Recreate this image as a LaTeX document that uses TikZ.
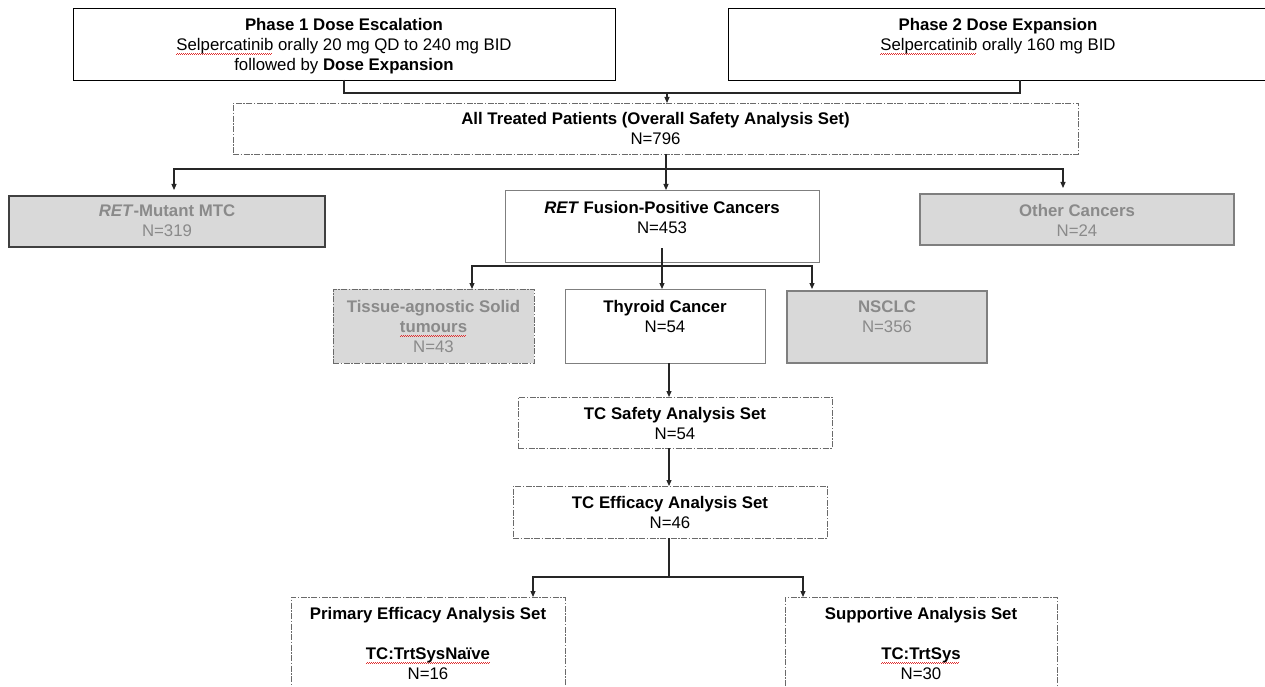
\documentclass[tikz,border=0pt]{standalone}
\usepackage{fontspec}
\setmainfont{Liberation Sans}
\usetikzlibrary{arrows.meta}
\definecolor{boxgray}{HTML}{D9D9D9}
\definecolor{txtgray}{HTML}{8A8A8A}
\definecolor{edgegray}{HTML}{7F7F7F}
\definecolor{dashgray}{HTML}{6A6A6A}
\definecolor{spellred}{HTML}{E03030}
\newcommand\spell[1]{\setbox0\hbox{#1}\leavevmode\rlap{\color{spellred}\leaders\hbox{\rule[-4.2pt]{1pt}{0.7pt}\rule[-3.5pt]{1pt}{0.7pt}}\hskip\wd0}\box0\relax}
\newcommand\bx[6]{\node[#6, anchor=north west, minimum width={#3-#1}, minimum height={#4-#2}] (#5) at (#1,#2) {};}
\newcommand\tx[5][]{\node[txt,#1] (#2) at (#3,{#4-8}) {\strut #5};}
\begin{document}
\begin{tikzpicture}[x=1pt,y=-1pt,
  base/.style={inner sep=0pt, outer sep=0pt, line width=0.9pt},
  solidbox/.style={base, draw=black, fill=white},
  linebox/.style={base, draw=edgegray, fill=white},
  dashbox/.style={base, draw=dashgray, dash pattern=on 6pt off 1.5pt on 1.5pt off 1.5pt},
  greybox/.style={base, draw=edgegray, fill=boxgray, line width=1.1pt},
  txt/.style={font=\fontsize{16.8}{20}\selectfont, align=center, inner sep=0pt, anchor=north},
  greytxt/.style={text=txtgray},
  conn/.style={draw=black!85, line width=1.1pt},
  arr/.style={conn, -{Triangle[length=6pt,width=5pt]}}]
\fill[white] (0,0) rectangle (1265,687);
\useasboundingbox (0,0) rectangle (1265,687);

% boxes
\bx{73}{8}{615}{80}{p1}{solidbox}
\bx{728}{8}{1268}{80}{p2}{solidbox}
\bx{233}{103}{1078}{154}{all}{dashbox}
\bx{9}{196}{325}{247}{mtc}{greybox,draw=black!75}
\bx{505}{190}{819}{262}{ret}{linebox}
\bx{920}{194}{1234}{245}{oth}{greybox}
\bx{333}{289}{534}{363}{tis}{greybox,dashbox,line width=0.9pt}
\bx{565}{289}{765}{363}{thy}{linebox}
\bx{787}{291}{987}{363}{nsc}{greybox,line width=1.5pt}
\bx{518}{397}{832}{448}{tcs}{dashbox}
\bx{513}{486}{827}{538}{tce}{dashbox}
\bx{291}{597}{565}{705}{pri}{dashbox}
\bx{785}{597}{1057}{705}{sup}{dashbox}

% texts
\tx{p1t}{344}{24}{\textbf{Phase 1 Dose Escalation}\\\spell{Selpercatinib} orally 20 mg QD to 240 mg BID\\followed by \textbf{Dose Expansion}}
\tx{p2t}{998}{24}{\textbf{Phase 2 Dose Expansion}\\\spell{Selpercatinib} orally 160 mg BID}
\tx{allt}{655.5}{118}{\textbf{All Treated Patients (Overall Safety Analysis Set)}\\N=796}
\tx[greytxt]{mtct}{167}{210}{\textbf{\textit{RET}-Mutant MTC}\\N=319}
\tx{rett}{662}{207}{\textbf{\textit{RET} Fusion-Positive Cancers}\\N=453}
\tx[greytxt]{otht}{1077}{210}{\textbf{Other Cancers}\\N=24}
\tx[greytxt]{tist}{433.5}{306}{\textbf{Tissue-agnostic Solid}\\\textbf{\spell{tumours}}\\N=43}
\tx{thyt}{665}{306}{\textbf{Thyroid Cancer}\\N=54}
\tx[greytxt]{nsct}{887}{306}{\textbf{NSCLC}\\N=356}
\tx{tcst}{675}{413}{\textbf{TC Safety Analysis Set}\\N=54}
\tx{tcet}{670}{502}{\textbf{TC Efficacy Analysis Set}\\N=46}
\tx{prit}{428}{613}{\textbf{Primary Efficacy Analysis Set}\\[20pt]\textbf{\spell{TC:TrtSysNaïve}}\\N=16}
\tx{supt}{921}{613}{\textbf{Supportive Analysis Set}\\[20pt]\textbf{\spell{TC:TrtSys}}\\N=30}

% connectors
\coordinate (j1) at (667,93);
\coordinate (j1r) at (1020,93);
\draw[conn] (p1.south) |- (j1r) -- (j1r |- p2.south);
\draw[arr] (j1) -- (j1 |- all.north);

\coordinate (j2) at (666,169);
\coordinate (mtcin) at ([xshift=7pt]mtc.north);
\coordinate (othin) at ([xshift=-14pt]oth.north);
\draw[conn] (j2 |- all.south) -- (j2);
\draw[arr] (j2) -- (j2 |- ret.north);
\draw[arr, shorten >=6pt] (j2) -| (mtcin);
\draw[arr, shorten >=6pt] (j2) -| (othin);

\coordinate (j3) at (662,266);
\coordinate (retout) at ([yshift=14pt]ret.south);
\coordinate (tisin) at ([xshift=38.5pt]tis.north);
\coordinate (nscin) at ([xshift=-75pt]nsc.north);
\draw[arr] (retout -| j3) -- (j3 |- thy.north);
\draw[arr] (j3) -| (tisin);
\draw[arr, shorten >=2pt] (j3) -| (nscin);

\coordinate (thyout) at ([xshift=4pt]thy.south);
\draw[arr] (thyout) -- (thyout |- tcs.north);
\coordinate (tcsout) at ([xshift=-6pt]tcs.south);
\draw[arr] (tcsout) -- (tcsout |- tce.north);

\coordinate (j4) at (669,577);
\coordinate (priin) at ([xshift=105pt]pri.north);
\coordinate (supin) at ([xshift=-118pt]sup.north);
\draw[conn] (j4 |- tce.south) -- (j4);
\draw[arr] (j4) -| (priin);
\draw[arr] (j4) -| (supin);
\end{tikzpicture}
\end{document}
